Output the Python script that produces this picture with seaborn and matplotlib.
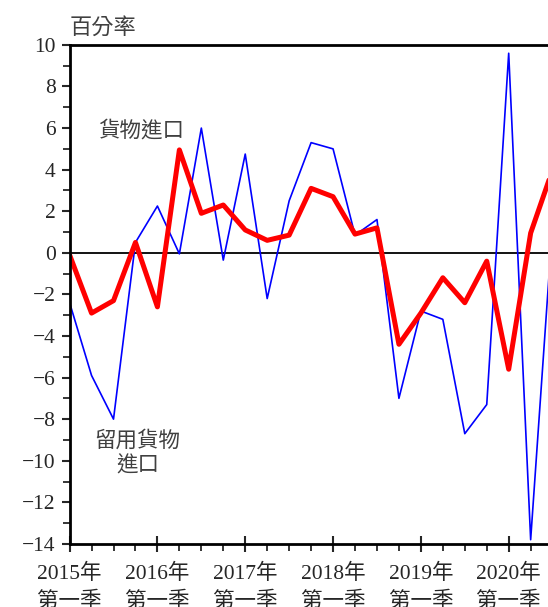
import pandas as pd
import matplotlib
matplotlib.use('Agg')
import matplotlib.pyplot as plt
import seaborn as sns
from matplotlib.ticker import MultipleLocator

# quarterly, 2015 Q1 .. 2020 Q3 (last point runs off the right edge)
quarters = list(range(23))
goods_imports = [-2.4, -5.9, -8.0, 0.5, 2.25, -0.05, 6.0, -0.35, 4.75, -2.2,
                 2.5, 5.3, 5.0, 0.85, 1.6, -7.0, -2.8, -3.2, -8.7, -7.3,
                 9.6, -13.8, 1.4]
retained_imports = [-0.1, -2.9, -2.3, 0.5, -2.6, 4.95, 1.9, 2.3, 1.1, 0.6,
                    0.85, 3.1, 2.7, 0.9, 1.2, -4.4, -2.9, -1.2, -2.4, -0.4,
                    -5.6, 0.95, 4.0]
year_ticks = [0, 4, 8, 12, 16, 20]
year_labels = ['2015年\n第一季', '2016年\n第一季', '2017年\n第一季',
               '2018年\n第一季', '2019年\n第一季', '2020年\n第一季']

df = pd.DataFrame({'q': quarters, 'goods': goods_imports, 'retained': retained_imports})

sns.set_style('white')
plt.rcParams['font.family'] = ['Liberation Serif', 'Noto Sans CJK TC', 'DejaVu Sans']

fig = plt.figure(figsize=(5.48, 6.07), dpi=100)
ax = fig.add_axes([0.127, 0.104, 0.873, 0.822])

sns.lineplot(data=df, x='q', y='goods', color='#0000ff', linewidth=1.2, ax=ax)
sns.lineplot(data=df, x='q', y='retained', color='#ff0000', linewidth=3.6, ax=ax)
ax.axhline(0, color='black', linewidth=1.3, zorder=0)

ax.set_xlim(0, 21.79)
ax.set_ylim(-14, 10)
ax.set_xlabel('')
ax.set_ylabel('')

ax.yaxis.set_major_locator(MultipleLocator(2))
ax.yaxis.set_minor_locator(MultipleLocator(1))
ax.set_xticks(year_ticks)
ax.set_xticklabels(year_labels, fontsize=15.5, linespacing=1.45)
ax.xaxis.set_minor_locator(MultipleLocator(1))
ax.tick_params(axis='y', which='major', direction='out', length=6, width=1.5,
               labelsize=15.5, left=True, pad=4)
ax.tick_params(axis='y', which='minor', direction='out', length=5, width=1.3, left=True)
ax.tick_params(axis='x', which='major', direction='inout', length=11, width=1.5,
               bottom=True, pad=9)
ax.tick_params(axis='x', which='minor', direction='out', length=5, width=1.3, bottom=True)

for side in ['left', 'bottom', 'top']:
    ax.spines[side].set_linewidth(2)
    ax.spines[side].set_color('black')
ax.spines['right'].set_visible(False)

ax.text(0, 10.3, '百分率', fontsize=16, color='#404040', ha='left', va='bottom',
        family=['Noto Sans CJK TC'])
ax.text(1.3, 5.9, '貨物進口', fontsize=15.5, color='#404040', ha='left', va='center',
        family=['Noto Sans CJK TC'])
ax.text(3.1, -8.5, '留用貨物\n進口', fontsize=15.5, color='#404040', ha='center', va='top',
        linespacing=1.2, family=['Noto Sans CJK TC'])

fig.savefig('out.png', dpi=100)
